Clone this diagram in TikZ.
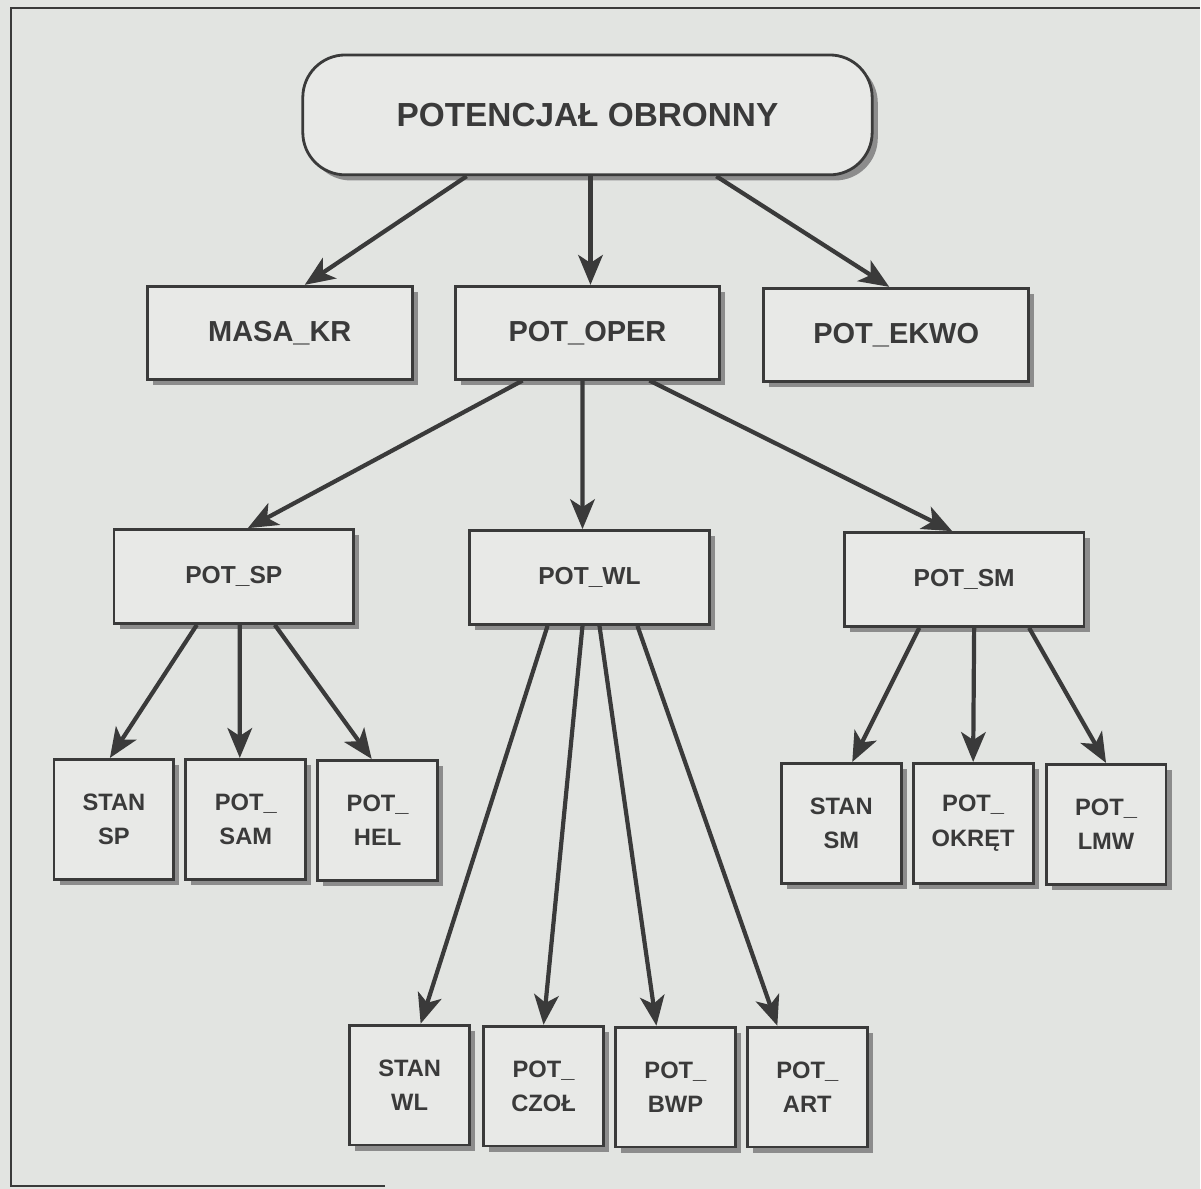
\documentclass[tikz,border=0pt]{standalone}
\usepackage{fontspec}
\setmainfont{Liberation Sans}
\usetikzlibrary{shadows,arrows.meta}
\definecolor{tlo}{HTML}{E2E4E1}
\definecolor{ramka}{HTML}{3A3A3A}
\definecolor{cien}{HTML}{8C8C8C}
\begin{document}
\begin{tikzpicture}[x=0.02cm, y=-0.02cm,
    blok/.style={draw=ramka, line width=1.6pt, fill=tlo!80!white, text=ramka,
        align=center, inner sep=0pt,
        general shadow={fill=cien, shadow xshift=3.2pt, shadow yshift=-3.2pt}},
    srednie/.style={blok, minimum width=5.3cm, minimum height=1.86cm,
        font=\fontsize{16.5}{20}\selectfont\bfseries},
    dzial/.style={blok, minimum width=4.8cm, minimum height=1.88cm,
        font=\fontsize{14}{18}\selectfont\bfseries},
    male/.style={blok, minimum width=2.4cm, minimum height=2.4cm,
        font=\fontsize{13.5}{19.5}\selectfont\bfseries},
    strz/.style={draw=ramka, line width=2.4pt, -{Stealth[length=17pt, width=14pt, inset=4.5pt]}}]
    \fill[tlo] (0,0) rectangle (1201,1190);
    \draw[ramka, line width=1.2pt] (385,1187) -- (11,1187) -- (11,8) -- (1201,8);
    \node[blok, rounded corners=0.85cm, minimum width=11.4cm, minimum height=2.4cm,
        font=\fontsize{19}{23}\selectfont\bfseries] (pot) at (588,115) {POTENCJAŁ OBRONNY};
    \node[srednie] (masa) at (280,333) {MASA\_KR};
    \node[srednie] (oper) at (588,333) {POT\_OPER};
    \node[srednie] (ekwo) at (897,335) {POT\_EKWO};
    \node[dzial] (sp) at (234,577) {POT\_SP};
    \node[dzial] (wl) at (590,578) {POT\_WL};
    \node[dzial] (sm) at (965,580) {POT\_SM};
    \node[male] (stansp) at (114,820) {STAN\\SP};
    \node[male] (sam) at (246,820) {POT\_\\SAM};
    \node[male] (hel) at (378,821) {POT\_\\HEL};
    \node[male] (stansm) at (842,824) {STAN\\SM};
    \node[male] (okret) at (974,824) {POT\_\\OKRĘT};
    \node[male] (lmw) at (1107,825) {POT\_\\LMW};
    \node[male] (stanwl) at (410,1086) {STAN\\WL};
    \node[male] (czol) at (544,1087) {POT\_\\CZOŁ};
    \node[male] (bwp) at (676,1088) {POT\_\\BWP};
    \node[male] (art) at (808,1088) {POT\_\\ART};
    \draw[strz] ([xshift=-2.42cm]pot.south) -- ([xshift=0.5cm]masa.north);
    \draw[strz] ([xshift=0.06cm]pot.south) -- ([xshift=0.06cm]oper.north);
    \draw[strz] ([xshift=2.58cm]pot.south) -- ([xshift=-0.14cm]ekwo.north);
    \draw[strz] ([xshift=-1.3cm]oper.south) -- ([xshift=0.28cm]sp.north);
    \draw[strz] ([xshift=-0.1cm]oper.south) -- ([xshift=-0.14cm]wl.north);
    \draw[strz] ([xshift=1.24cm]oper.south) -- ([xshift=-0.24cm]sm.north);
    \draw[strz] ([xshift=-0.74cm]sp.south) -- ([xshift=-0.08cm]stansp.north);
    \draw[strz] ([xshift=0.12cm]sp.south) -- ([xshift=-0.12cm]sam.north);
    \draw[strz] ([xshift=0.82cm]sp.south) -- ([xshift=-0.12cm]hel.north);
    \draw[strz] ([xshift=-0.84cm]wl.south) -- ([xshift=0.22cm]stanwl.north);
    \draw[strz] ([xshift=-0.14cm]wl.south) -- (czol.north);
    \draw[strz] ([xshift=0.2cm]wl.south) -- ([xshift=-0.38cm]bwp.north);
    \draw[strz] ([xshift=0.96cm]wl.south) -- ([xshift=-0.6cm]art.north);
    \draw[strz] ([xshift=-0.9cm]sm.south) -- ([xshift=0.22cm]stansm.north);
    \draw[strz] ([xshift=0.2cm]sm.south) -- (okret.north);
    \draw[strz] ([xshift=1.3cm]sm.south) -- (lmw.north);
\end{tikzpicture}
\end{document}
